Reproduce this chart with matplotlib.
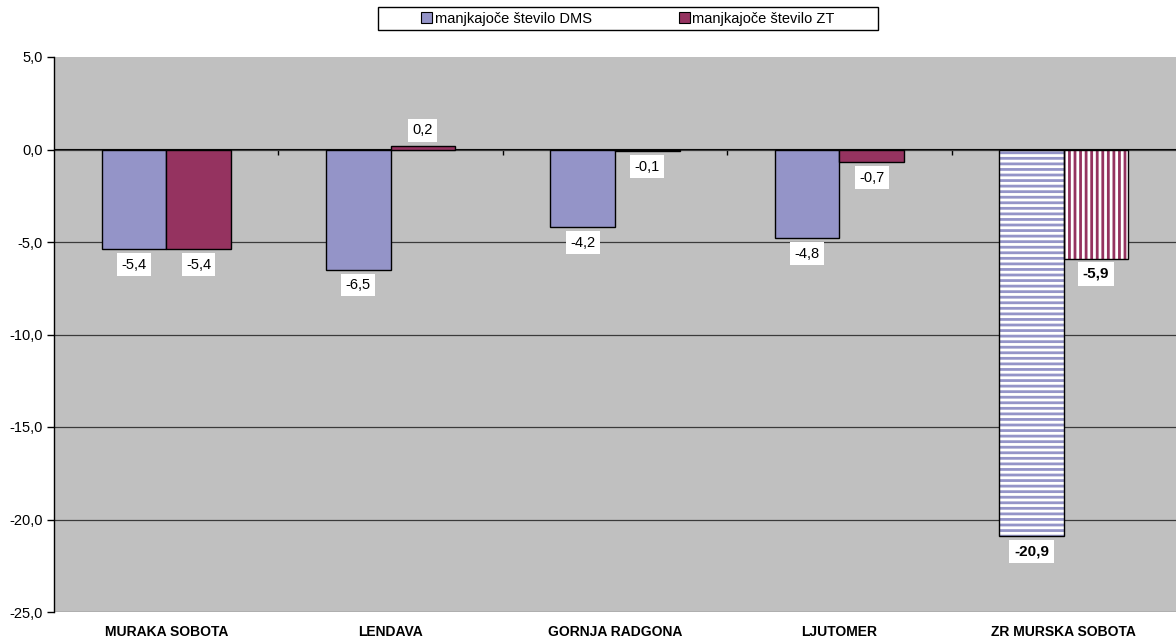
import matplotlib
matplotlib.use("Agg")
import matplotlib.pyplot as plt
import numpy as np
from matplotlib.patches import Patch, Rectangle

categories = ["MURAKA SOBOTA", "LENDAVA", "GORNJA RADGONA", "LJUTOMER", "ZR MURSKA SOBOTA"]
series_names = ["manjkajoče število DMS", "manjkajoče število ZT"]
dms = [-5.4, -6.5, -4.2, -4.8, -20.9]
zt = [-5.4, 0.2, -0.1, -0.7, -5.9]
y_ticks = [5, 0, -5, -10, -15, -20, -25]

c_dms = "#9494C8"
c_zt = "#953360"
bg = "#C0C0C0"

plt.rcParams["font.family"] = ["Liberation Sans", "DejaVu Sans"]
plt.rcParams["hatch.linewidth"] = 2.0

fig = plt.figure(figsize=(11.76, 6.40), dpi=100)
ax = fig.add_axes([54 / 1176, 28 / 640, 1 - 54 / 1176, (612 - 57) / 640])
ax.set_facecolor(bg)

x = np.arange(len(categories))
w = 0.2875
n = len(categories)
plain = list(range(n - 1))
hatched = [n - 1]


def fmt(v):
    return f"{v:.1f}".replace(".", ",")


def draw(vals, offset, color, hatch):
    vals = np.asarray(vals)
    xs = x + offset
    ax.bar(xs[plain], vals[plain], width=w, color=color, edgecolor="black", linewidth=1.0, zorder=3)
    ax.bar(xs[hatched], vals[hatched], width=w, color="white", edgecolor=color, linewidth=0,
           hatch=hatch, zorder=3)
    ax.bar(xs[hatched], vals[hatched], width=w, fill=False, edgecolor="black", linewidth=1.0, zorder=4)
    for i, (xi, v) in enumerate(zip(xs, vals)):
        neg = v < 0
        bold = i in hatched
        ax.annotate(fmt(v), (xi, v), xytext=(0, -6 if neg else 6), textcoords="offset points",
                    ha="center", va="top" if neg else "bottom", fontsize=11 if bold else 10.5,
                    fontweight="bold" if bold else "normal", zorder=6,
                    bbox=dict(boxstyle="square,pad=0.3", fc="white", ec="none"))


draw(dms, -w / 2, c_dms, "---")
draw(zt, w / 2, c_zt, "|||")

ax.set_xlim(-0.5, n - 0.5)
ax.set_ylim(-25, 5)
ax.set_yticks(y_ticks)
ax.set_yticklabels([fmt(float(t)) for t in y_ticks], fontsize=10.5)
ax.tick_params(axis="y", direction="out", length=5, width=1, color="black", pad=3)
ax.yaxis.grid(True, color="#3a3a3a", linewidth=0.9, zorder=1)
ax.set_axisbelow(True)
ax.get_ygridlines()[0].set_visible(False)

ax.set_xticks(x)
ax.set_xticklabels(categories, fontsize=10, fontweight="bold")
ax.tick_params(axis="x", length=0, pad=9)

for s in ["top", "right", "bottom"]:
    ax.spines[s].set_visible(False)
ax.spines["left"].set_color("black")
ax.spines["left"].set_linewidth(1.0)

sec = ax.secondary_xaxis(25 / 30)
sec.set_xticks(x[:-1] + 0.5)
sec.set_xticklabels([])
sec.tick_params(axis="x", direction="in", length=4, width=1, color="black")
sec.spines["bottom"].set_color("black")
sec.spines["bottom"].set_linewidth(1.0)
sec.spines["bottom"].set_zorder(5)

handles = [Patch(facecolor=c_dms, edgecolor="black", linewidth=0.8),
           Patch(facecolor=c_zt, edgecolor="black", linewidth=0.8)]
leg = fig.legend(handles, series_names, loc="center", bbox_to_anchor=(628 / 1176, 1 - 18.5 / 640),
                 ncol=2, fontsize=10.5, frameon=False,
                 handlelength=0.75, handleheight=0.75, handletextpad=0.15, columnspacing=6.0,
                 borderpad=0.2, borderaxespad=0)
fig.patches.append(Rectangle((378 / 1176, 1 - 30 / 640), 500 / 1176, 23 / 640,
                             transform=fig.transFigure, fill=False, edgecolor="black",
                             linewidth=1.0, zorder=1))

fig.savefig("out.png", dpi=100)
